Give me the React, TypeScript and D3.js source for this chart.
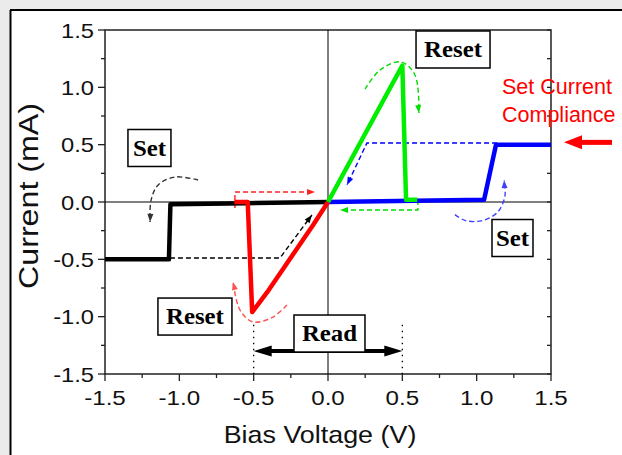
import React from 'react';
import * as d3 from 'd3';

// ---- axis ticks ----
const xTicks = [-1.5, -1.0, -0.5, 0.0, 0.5, 1.0, 1.5];
const yTicks = [1.5, 1.0, 0.5, 0.0, -0.5, -1.0, -1.5];
const minorTicks = [-1.5, -1.25, -1.0, -0.75, -0.5, -0.25, 0, 0.25, 0.5, 0.75, 1.0, 1.25, 1.5];

// ---- I-V curves (V in volts, I in mA) ----
const setNegV = [-1.5, -1.07, -1.06, -0.55, 0.0];
const setNegI = [-0.5, -0.5, -0.02, -0.01, 0.0];

const resetNegV = [-0.63, -0.54, -0.51, -0.4, -0.3, -0.2, -0.1, 0.0];
const resetNegI = [0.0, 0.0, -0.96, -0.77, -0.58, -0.39, -0.2, 0.0];

const resetPosV = [0.0, 0.5, 0.525, 0.6];
const resetPosI = [0.0, 1.19, 0.02, 0.02];

const setPosV = [0.0, 1.05, 1.13, 1.5];
const setPosI = [0.0, 0.02, 0.5, 0.5];

// ---- dashed guide arrows (data coords) ----
const blueGuideV = [1.137, 0.262, 0.128];
const blueGuideI = [0.515, 0.515, 0.148];
const blueArcV = [0.854, 0.92, 1.03, 1.14, 1.19, 1.185];
const blueArcI = [-0.11, -0.16, -0.165, -0.09, 0.05, 0.19];

const greenGuideV = [0.605, 0.605, 0.081];
const greenGuideI = [0.017, -0.07, -0.07];
const greenArcV = [0.249, 0.35, 0.491, 0.585, 0.612];
const greenArcI = [0.985, 1.151, 1.221, 1.108, 0.776];

const redGuideV = [-0.626, -0.626, -0.087];
const redGuideI = [-0.052, 0.087, 0.087];
const redArcV = [-0.276, -0.37, -0.505, -0.592, -0.639];
const redArcI = [-0.898, -1.003, -1.046, -0.942, -0.698];

const blackGuideV = [-1.063, -0.323, -0.108];
const blackGuideI = [-0.488, -0.488, -0.113];
const blackArcV = [-0.874, -1.029, -1.143, -1.19, -1.197];
const blackArcI = [0.192, 0.218, 0.148, 0.017, -0.174];

// ---- labels ----
const boxLabels = ['Reset', 'Set', 'Reset', 'Set', 'Read'];
const boxV = [0.841, -1.201, -0.895, 1.241, 0.01];
const boxI = [1.33, 0.471, -0.999, -0.314, -1.147];
const boxW = [74, 43, 74, 41, 71];

const readRange = [-0.5, 0.5];
const readI = -1.3;
const complianceI = 0.52;

const W = 622;
const H = 455;
const x = d3.scaleLinear().domain([-1.5, 1.5]).range([105, 551]);
const y = d3.scaleLinear().domain([-1.5, 1.5]).range([374, 30]);
const fmt = (v: number) => d3.format('.1f')(v).replace('\u2212', '-');

const zip = (a: number[], b: number[]) => a.map((v, i) => [v, b[i]] as [number, number]);
const lin = d3.line<[number, number]>().x(d => x(d[0])).y(d => y(d[1]));
const smooth = d3.line<[number, number]>().x(d => x(d[0])).y(d => y(d[1])).curve(d3.curveCatmullRom);

function headPts(tipX: number, tipY: number, fromX: number, fromY: number, len: number, half: number) {
  const a = Math.atan2(tipY - fromY, tipX - fromX);
  const bx = tipX - len * Math.cos(a);
  const by = tipY - len * Math.sin(a);
  const px = -Math.sin(a) * half;
  const py = Math.cos(a) * half;
  return `${tipX},${tipY} ${bx + px},${by + py} ${bx - px},${by - py}`;
}

function DashedArrow({ pts, color, curved }: { pts: [number, number][]; color: string; curved?: boolean }) {
  const d = (curved ? smooth : lin)(pts) || '';
  const n = pts.length;
  const tip = pts[n - 1];
  const prev = pts[n - 2];
  const tx = x(tip[0]), ty = y(tip[1]);
  const fx = x(prev[0]), fy = y(prev[1]);
  return (
    <g>
      <path d={d} fill="none" stroke={color} strokeWidth={1.4} strokeDasharray="5,3" />
      <polygon points={headPts(tx, ty, fx, fy, 8, 3)} fill={color} />
    </g>
  );
}

const FONT = 'Arial, "Liberation Sans", Helvetica, sans-serif';
const SERIF = '"Times New Roman", "Liberation Serif", serif';

function SText({ x: tx, y: ty, sx, rot, anchor, size, family, weight, fill, dy, children }: any) {
  const tr = `translate(${tx},${ty})${rot ? ` rotate(${rot})` : ''} scale(${sx},1)`;
  return (
    <text transform={tr} dy={dy} textAnchor={anchor || 'start'} fontFamily={family || FONT} fontWeight={weight || 'normal'} fontSize={size} fill={fill || '#111'}>
      {children}
    </text>
  );
}

export default function App() {
  const y0 = y(0);
  const x0 = x(0);
  return (
    <svg width={W} height={H} style={{ position: 'absolute', left: 0, top: 0, display: 'block' }}>
      <rect x={0} y={0} width={W} height={H} fill="#ebebeb" />
      <rect x={10} y={10} width={W} height={H} fill="#ffffff" />
      <line x1={10} y1={10} x2={W} y2={10} stroke="#000" strokeWidth={2} />
      <line x1={10.5} y1={10} x2={10.5} y2={H} stroke="#000" strokeWidth={2} />

      {/* frame */}
      <rect x={x(-1.5)} y={y(1.5)} width={x(1.5) - x(-1.5)} height={y(-1.5) - y(1.5)} fill="none" stroke="#222" strokeWidth={1.5} />
      {/* crosshair */}
      <line x1={x0} y1={y(1.5)} x2={x0} y2={y(-1.5)} stroke="#000" strokeWidth={1} />
      <line x1={x(-1.5)} y1={y0} x2={x(1.5)} y2={y0} stroke="#000" strokeWidth={1} />

      {/* ticks */}
      {minorTicks.map((t, i) => {
        const major = yTicks.includes(t);
        return <line key={'ly' + i} x1={x(-1.5) - (major ? 7 : 4)} x2={x(-1.5)} y1={y(t)} y2={y(t)} stroke="#222" strokeWidth={1.3} />;
      })}
      {minorTicks.map((t, i) => (
        <line key={'ry' + i} x1={x(1.5) - 4} x2={x(1.5)} y1={y(t)} y2={y(t)} stroke="#222" strokeWidth={1.3} />
      ))}
      {minorTicks.map((t, i) => {
        const major = xTicks.includes(t);
        return <line key={'bx' + i} x1={x(t)} x2={x(t)} y1={y(-1.5)} y2={y(-1.5) + (major ? 7 : 4)} stroke="#222" strokeWidth={1.3} />;
      })}
      {yTicks.map(t => (
        <SText key={'yl' + t} x={x(-1.5) - 11} y={y(t)} dy="0.36em" anchor="end" size={21} sx={1.13}>{fmt(t)}</SText>
      ))}
      {xTicks.map(t => (
        <SText key={'xl' + t} x={x(t)} y={405} anchor="middle" size={21} sx={1.15}>{fmt(t)}</SText>
      ))}
      <SText x={320} y={443} anchor="middle" size={24} sx={1.12}>Bias Voltage (V)</SText>
      <SText x={38} y={196} rot={-90} anchor="middle" size={28} sx={1.15}>Current (mA)</SText>

      {/* dashed guides */}
      <DashedArrow pts={zip(blackGuideV, blackGuideI)} color="#000" />
      <DashedArrow pts={zip(blackArcV, blackArcI)} color="#333" curved />
      <DashedArrow pts={zip(redGuideV, redGuideI)} color="#ff2020" />
      <DashedArrow pts={zip(redArcV, redArcI)} color="#ff5050" curved />
      <DashedArrow pts={zip(greenGuideV, greenGuideI)} color="#00dd00" />
      <DashedArrow pts={zip(greenArcV, greenArcI)} color="#00dd00" curved />
      <DashedArrow pts={zip(blueGuideV, blueGuideI)} color="#0000ff" />
      <DashedArrow pts={zip(blueArcV, blueArcI)} color="#4040ff" curved />

      {/* I-V curves */}
      <path d={lin(zip(setNegV, setNegI)) || ''} fill="none" stroke="#000" strokeWidth={4.5} strokeLinejoin="round" />
      <path d={lin(zip(setPosV, setPosI)) || ''} fill="none" stroke="#0000ff" strokeWidth={4.5} strokeLinejoin="round" />
      <path d={lin(zip(resetNegV, resetNegI)) || ''} fill="none" stroke="#ff0000" strokeWidth={4.5} strokeLinejoin="round" />
      <path d={lin(zip(resetPosV, resetPosI)) || ''} fill="none" stroke="#00ee00" strokeWidth={4.5} strokeLinejoin="round" />

      {/* read dotted lines + arrow */}
      {readRange.map(v => (
        <line key={'rd' + v} x1={x(v)} x2={x(v)} y1={y(-1.07)} y2={y(-1.5)} stroke="#000" strokeWidth={1.3} strokeDasharray="1.5,4.5" />
      ))}
      <line x1={x(readRange[0]) + 14} x2={x(readRange[1]) - 14} y1={y(readI)} y2={y(readI)} stroke="#000" strokeWidth={4} />
      <polygon points={headPts(x(readRange[0]), y(readI), x(readRange[1]), y(readI), 18, 5.5)} fill="#000" />
      <polygon points={headPts(x(readRange[1]), y(readI), x(readRange[0]), y(readI), 18, 5.5)} fill="#000" />

      {/* label boxes */}
      {boxLabels.map((s, i) => {
        const cx = x(boxV[i]);
        const cy = y(boxI[i]);
        return (
          <g key={'bx' + i}>
            <rect x={cx - boxW[i] / 2} y={cy - 18.5} width={boxW[i]} height={37} fill="#fff" stroke="#000" strokeWidth={1.5} />
            <SText x={cx} y={cy} dy="0.33em" anchor="middle" family={SERIF} weight="bold" size={23} sx={1.08} fill="#000">{s}</SText>
          </g>
        );
      })}

      {/* compliance */}
      <SText x={502} y={94} size={21.5} sx={1.0} fill="#ff0000">Set Current</SText>
      <SText x={502} y={122} size={21.5} sx={1.0} fill="#ff0000">Compliance</SText>
      <line x1={612} x2={580} y1={y(complianceI)} y2={y(complianceI)} stroke="#ff0000" strokeWidth={5} />
      <polygon points={headPts(564, y(complianceI), 612, y(complianceI), 18, 7)} fill="#ff0000" />
    </svg>
  );
}
